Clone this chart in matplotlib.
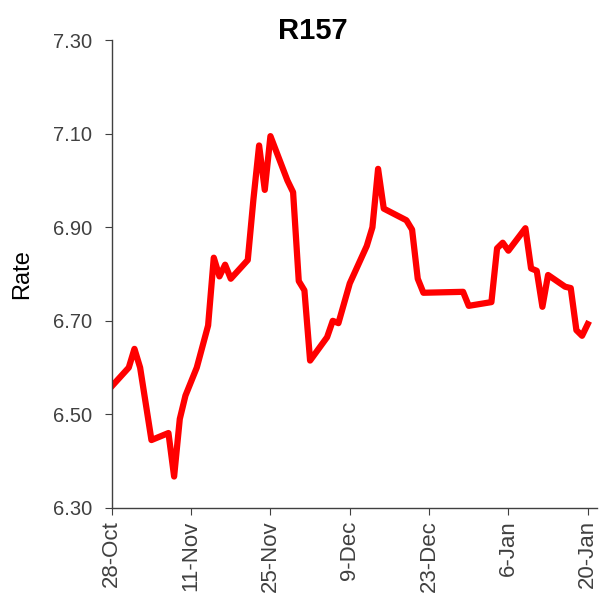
import matplotlib.pyplot as plt
import pandas as pd

plt.rcParams["font.family"] = ["Liberation Sans", "DejaVu Sans"]

# R157 rate, days after 28-Oct
START = "2019-10-28"
days = [0, 3, 4, 5, 7, 10, 11, 12, 13, 15, 17, 18, 19, 20, 21, 24, 25, 26, 27, 28,
        31, 32, 33, 34, 35, 38, 39, 40, 42, 45, 46, 47, 48, 52, 53, 54, 55, 62, 63,
        67, 68, 69, 70, 73, 74, 75, 76, 77, 80, 81, 82, 83, 84]
rates = [6.56, 6.60, 6.64, 6.60, 6.445, 6.46, 6.367, 6.49, 6.54, 6.60, 6.69, 6.835,
         6.795, 6.82, 6.79, 6.83, 6.96, 7.075, 6.98, 7.095, 7.00, 6.975, 6.785, 6.765,
         6.615, 6.665, 6.70, 6.695, 6.78, 6.86, 6.90, 7.025, 6.94, 6.915, 6.895, 6.79,
         6.76, 6.762, 6.732, 6.74, 6.855, 6.867, 6.85, 6.898, 6.812, 6.807, 6.73,
         6.798, 6.773, 6.77, 6.68, 6.668, 6.693]

tick_days = [0, 14, 28, 42, 56, 70, 84]
tick_labels = ["28-Oct", "11-Nov", "25-Nov", "9-Dec", "23-Dec", "6-Jan", "20-Jan"]
y_ticks = [6.30, 6.50, 6.70, 6.90, 7.10, 7.30]

start = pd.Timestamp(START)
dates = [start + pd.Timedelta(days=d) for d in days]
tick_dates = [start + pd.Timedelta(days=d) for d in tick_days]

fig = plt.figure(figsize=(6.01, 6.01), dpi=100)
ax = fig.add_axes([0.186, 0.155, 0.807, 0.778])

ax.plot(dates, rates, color="#ff0000", linewidth=4.5, solid_joinstyle="round")

ax.set_xlim(start, start + pd.Timedelta(days=85.6))
ax.set_ylim(6.30, 7.30)
ax.set_yticks(y_ticks)
ax.set_yticklabels([f"{v:.2f}" for v in y_ticks])
ax.set_xticks(tick_dates)
ax.set_xticklabels(tick_labels, rotation=90)

for s in ["top", "right"]:
    ax.spines[s].set_visible(False)
for s in ["left", "bottom"]:
    ax.spines[s].set_color("#404040")
    ax.spines[s].set_linewidth(1.0)

ax.tick_params(axis="both", direction="out", length=5, color="#404040",
               labelcolor="#404040")
ax.tick_params(axis="y", pad=9, labelsize=14.5)
ax.tick_params(axis="x", pad=4, labelsize=16)
ax.set_ylabel("Rate", fontsize=17, color="#000000")
ax.yaxis.set_label_coords(-0.163, 0.5)

# title sits a bit left of the axes centre in the original
fig.text(0.521, 0.935, "R157", fontsize=21, fontweight="bold",
         ha="center", va="baseline")

fig.savefig("out.png", dpi=100)
